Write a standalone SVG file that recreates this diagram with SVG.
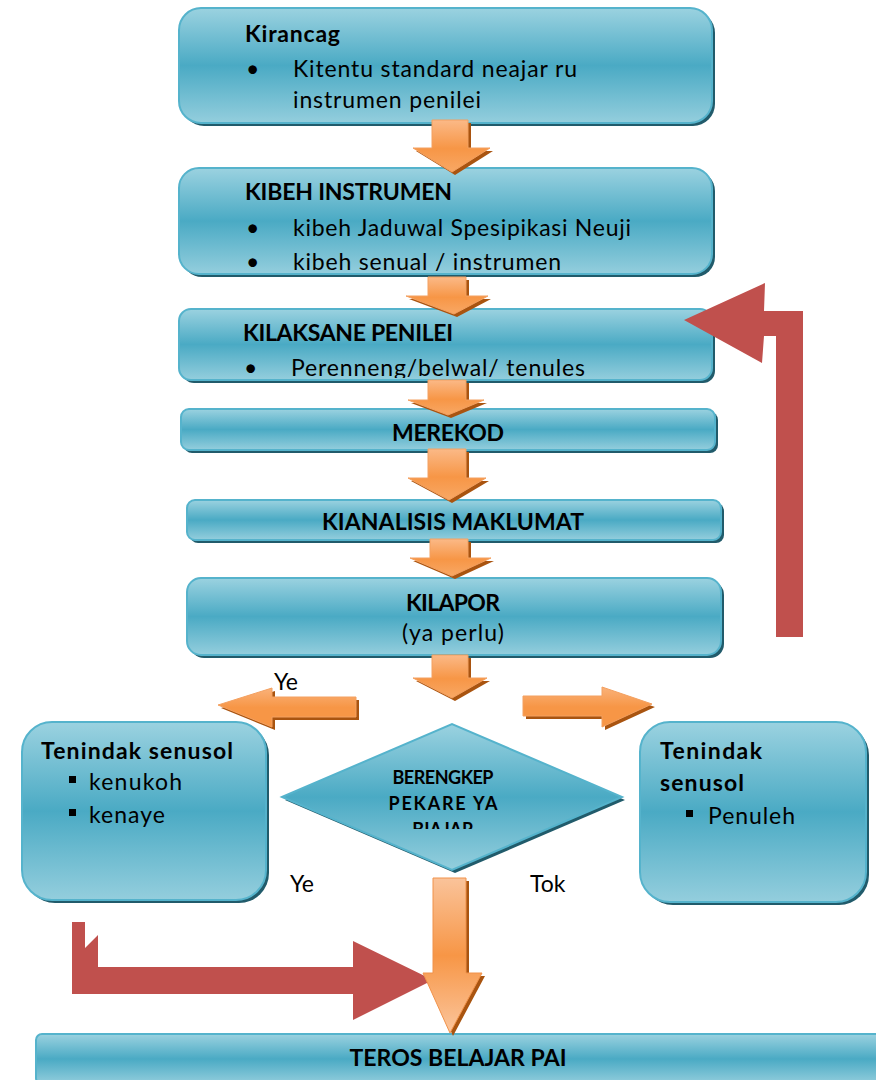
<svg xmlns="http://www.w3.org/2000/svg" width="876" height="1080" viewBox="0 0 876 1080">
<defs>
<linearGradient id="gb" x1="0" y1="0" x2="0" y2="1">
<stop offset="0" stop-color="#9bd2e0"/>
<stop offset="0.5" stop-color="#4aaac4"/>
<stop offset="1" stop-color="#94cedd"/>
</linearGradient>
<linearGradient id="go" x1="0" y1="0" x2="0" y2="1">
<stop offset="0" stop-color="#fbb987"/>
<stop offset="0.55" stop-color="#f79646"/>
<stop offset="1" stop-color="#f8a865"/>
</linearGradient>
<linearGradient id="goh" x1="0" y1="0" x2="0" y2="1">
<stop offset="0" stop-color="#fab27a"/>
<stop offset="0.5" stop-color="#f79646"/>
<stop offset="1" stop-color="#f79646"/>
</linearGradient>
<linearGradient id="gbig" x1="0" y1="0" x2="0" y2="1">
<stop offset="0" stop-color="#fac39a"/>
<stop offset="0.5" stop-color="#f79646"/>
<stop offset="1" stop-color="#fbc59c"/>
</linearGradient>
<clipPath id="c3"><rect x="179" y="309" width="533" height="69"/></clipPath>
<clipPath id="cd"><rect x="280" y="720" width="345" height="109"/></clipPath>
<style>
.sh{fill:#215b6b}
.bx{fill:url(#gb);stroke:#55b3cc;stroke-width:2}
.t{font-family:Lato,"Open Sans",sans-serif;font-size:23px;fill:#000}
.b{font-weight:bold}
.m{text-anchor:middle}
.oa{fill:url(#go);stroke:#f3a060;stroke-width:1}
.od{fill:#a95410}
.red{fill:#c0504d}
</style>
</defs>
<rect width="876" height="1080" fill="#fff"/>

<g id="n1">
<rect class="sh" x="182" y="11" width="533" height="115" rx="22"/>
<rect class="bx" x="179" y="8" width="533" height="115" rx="22"/>
<text class="t b" x="245" y="42" textLength="95">Kirancag</text>
<text class="t" x="246" y="77">•</text>
<text class="t" x="293" y="77" textLength="284">Kitentu standard neajar ru</text>
<text class="t" x="293" y="108" textLength="188">instrumen penilei</text>
</g>

<g id="n2">
<rect class="sh" x="182" y="171" width="533" height="106" rx="20"/>
<rect class="bx" x="179" y="168" width="533" height="106" rx="20"/>
<text class="t b" x="245" y="200" textLength="207">KIBEH INSTRUMEN</text>
<text class="t" x="246" y="236">•</text>
<text class="t" x="293" y="236" textLength="338">kibeh Jaduwal Spesipikasi Neuji</text>
<text class="t" x="246" y="270">•</text>
<text class="t" x="293" y="270" textLength="268">kibeh senual / instrumen</text>
</g>

<g id="n3">
<rect class="sh" x="182" y="312" width="533" height="71" rx="12"/>
<rect class="bx" x="179" y="309" width="533" height="71" rx="12"/>
<text class="t b" x="243" y="341" textLength="210">KILAKSANE PENILEI</text>
<g clip-path="url(#c3)">
<text class="t" x="244" y="376">•</text>
<text class="t" x="291" y="376" textLength="294">Perenneng/belwal/ tenules</text>
</g>
</g>

<g id="n4">
<rect class="sh" x="184" y="412" width="534" height="41" rx="8"/>
<rect class="bx" x="181" y="409" width="534" height="41" rx="8"/>
<text class="t b m" x="448" y="441" textLength="112">MEREKOD</text>
</g>

<g id="n5">
<rect class="sh" x="190" y="503" width="534" height="40" rx="8"/>
<rect class="bx" x="187" y="500" width="534" height="40" rx="8"/>
<text class="t b m" x="453" y="530" textLength="262">KIANALISIS MAKLUMAT</text>
</g>

<g id="n6">
<rect class="sh" x="190" y="581" width="534" height="77" rx="14"/>
<rect class="bx" x="187" y="578" width="534" height="77" rx="14"/>
<text class="t b m" x="453" y="611" textLength="94">KILAPOR</text>
<text class="t m" x="453" y="641" textLength="102">(ya perlu)</text>
</g>

<g id="n7">
<path class="sh" d="M285,800 L455,727 L625,800 L455,873 Z"/>
<path class="bx" d="M282,797 L452,724 L622,797 L452,870 Z"/>
<g clip-path="url(#cd)">
<text class="t b m" style="font-size:18px" x="443" y="784" textLength="101">BERENGKEP</text>
<text class="t b m" style="font-size:18px" x="443" y="810" textLength="109">PEKARE YA</text>
<text class="t b m" style="font-size:18px" x="443" y="836">BIAJAR</text>
</g>
</g>

<g id="n8">
<rect class="sh" x="25" y="725" width="244" height="178" rx="30"/>
<rect class="bx" x="22" y="722" width="244" height="178" rx="30"/>
<text class="t b" x="41" y="759" textLength="192">Tenindak senusol</text>
<rect x="69" y="776" width="7" height="7" fill="#000"/>
<text class="t" x="89" y="790" textLength="93">kenukoh</text>
<rect x="69" y="809" width="7" height="7" fill="#000"/>
<text class="t" x="89" y="823" textLength="76">kenaye</text>
</g>

<g id="n9">
<rect class="sh" x="643" y="725" width="226" height="180" rx="30"/>
<rect class="bx" x="640" y="722" width="226" height="180" rx="30"/>
<text class="t b" x="660" y="759" textLength="102">Tenindak</text>
<text class="t b" x="660" y="791" textLength="84">senusol</text>
<rect x="686" y="810" width="7" height="7" fill="#000"/>
<text class="t" x="708" y="824" textLength="87">Penuleh</text>
</g>

<g id="n10">
<rect class="sh" x="39" y="1037" width="850" height="50" rx="6"/>
<rect class="bx" x="36" y="1034" width="850" height="50" rx="6"/>
<text class="t b m" style="font-size:22px" x="458" y="1066" textLength="217" lengthAdjust="spacingAndGlyphs">TEROS BELAJAR PAI</text>
</g>

<g id="labels">
<text class="t" x="274" y="690">Ye</text>
<text class="t" x="290" y="892">Ye</text>
<text class="t" x="530" y="892">Tok</text>
</g>

<g id="connectors">
<path class="od" d="M435,123 H471 V151 H493 L455,175 L416,151 H435 Z"/>
<path class="oa" d="M432,120 H468 V148 H490 L452,172 L413,148 H432 Z"/>
<path class="od" d="M431,280 H469 V299 H491 L457,317 L409,299 H431 Z"/>
<path class="oa" d="M428,277 H466 V296 H488 L454,314 L406,296 H428 Z"/>
<path class="od" d="M431,383 H469 V403 H487 L451,418 L411,403 H431 Z"/>
<path class="oa" d="M428,380 H466 V400 H484 L448,415 L408,400 H428 Z"/>
<path class="od" d="M431,452 H469 V481 H489 L452,503 L411,481 H431 Z"/>
<path class="oa" d="M428,449 H466 V478 H486 L449,500 L408,478 H428 Z"/>
<path class="od" d="M433,542 H471 V561 H494 L455,579 L413,561 H433 Z"/>
<path class="oa" d="M430,539 H468 V558 H491 L452,576 L410,558 H430 Z"/>
<path class="od" d="M435,658 H471 V681 H490 L455,701 L416,681 H435 Z"/>
<path class="oa" d="M432,655 H468 V678 H487 L452,698 L413,678 H432 Z"/>
<path class="od" d="M359,700 V720 H275 V730 L221,708 L275,691 V700 Z"/>
<path fill="url(#goh)" stroke="#f3a060" d="M356,697 V717 H272 V727 L218,705 L272,688 V697 Z"/>
<path class="od" d="M526,699 V719 H605 V730 L655,707 L605,690 V699 Z"/>
<path fill="url(#goh)" stroke="#f3a060" d="M523,696 V716 H602 V727 L652,704 L602,687 V696 Z"/>
<path class="red" d="M684,320 L765,283 L764,311 H803 V637 H776 V336 H764 L762,363 Z"/>
<path class="red" d="M72,922 H85 V948 L98,935 V967 H353 V941 L433,980 L353,1020 V994 H72 Z"/>
<path class="od" d="M436,881 H469 V976 H485 L453,1036 L426,976 H436 Z"/>
<path fill="url(#gbig)" stroke="#f0924a" d="M433,878 H466 V973 H482 L450,1033 L423,973 H433 Z"/>
</g>
</svg>
